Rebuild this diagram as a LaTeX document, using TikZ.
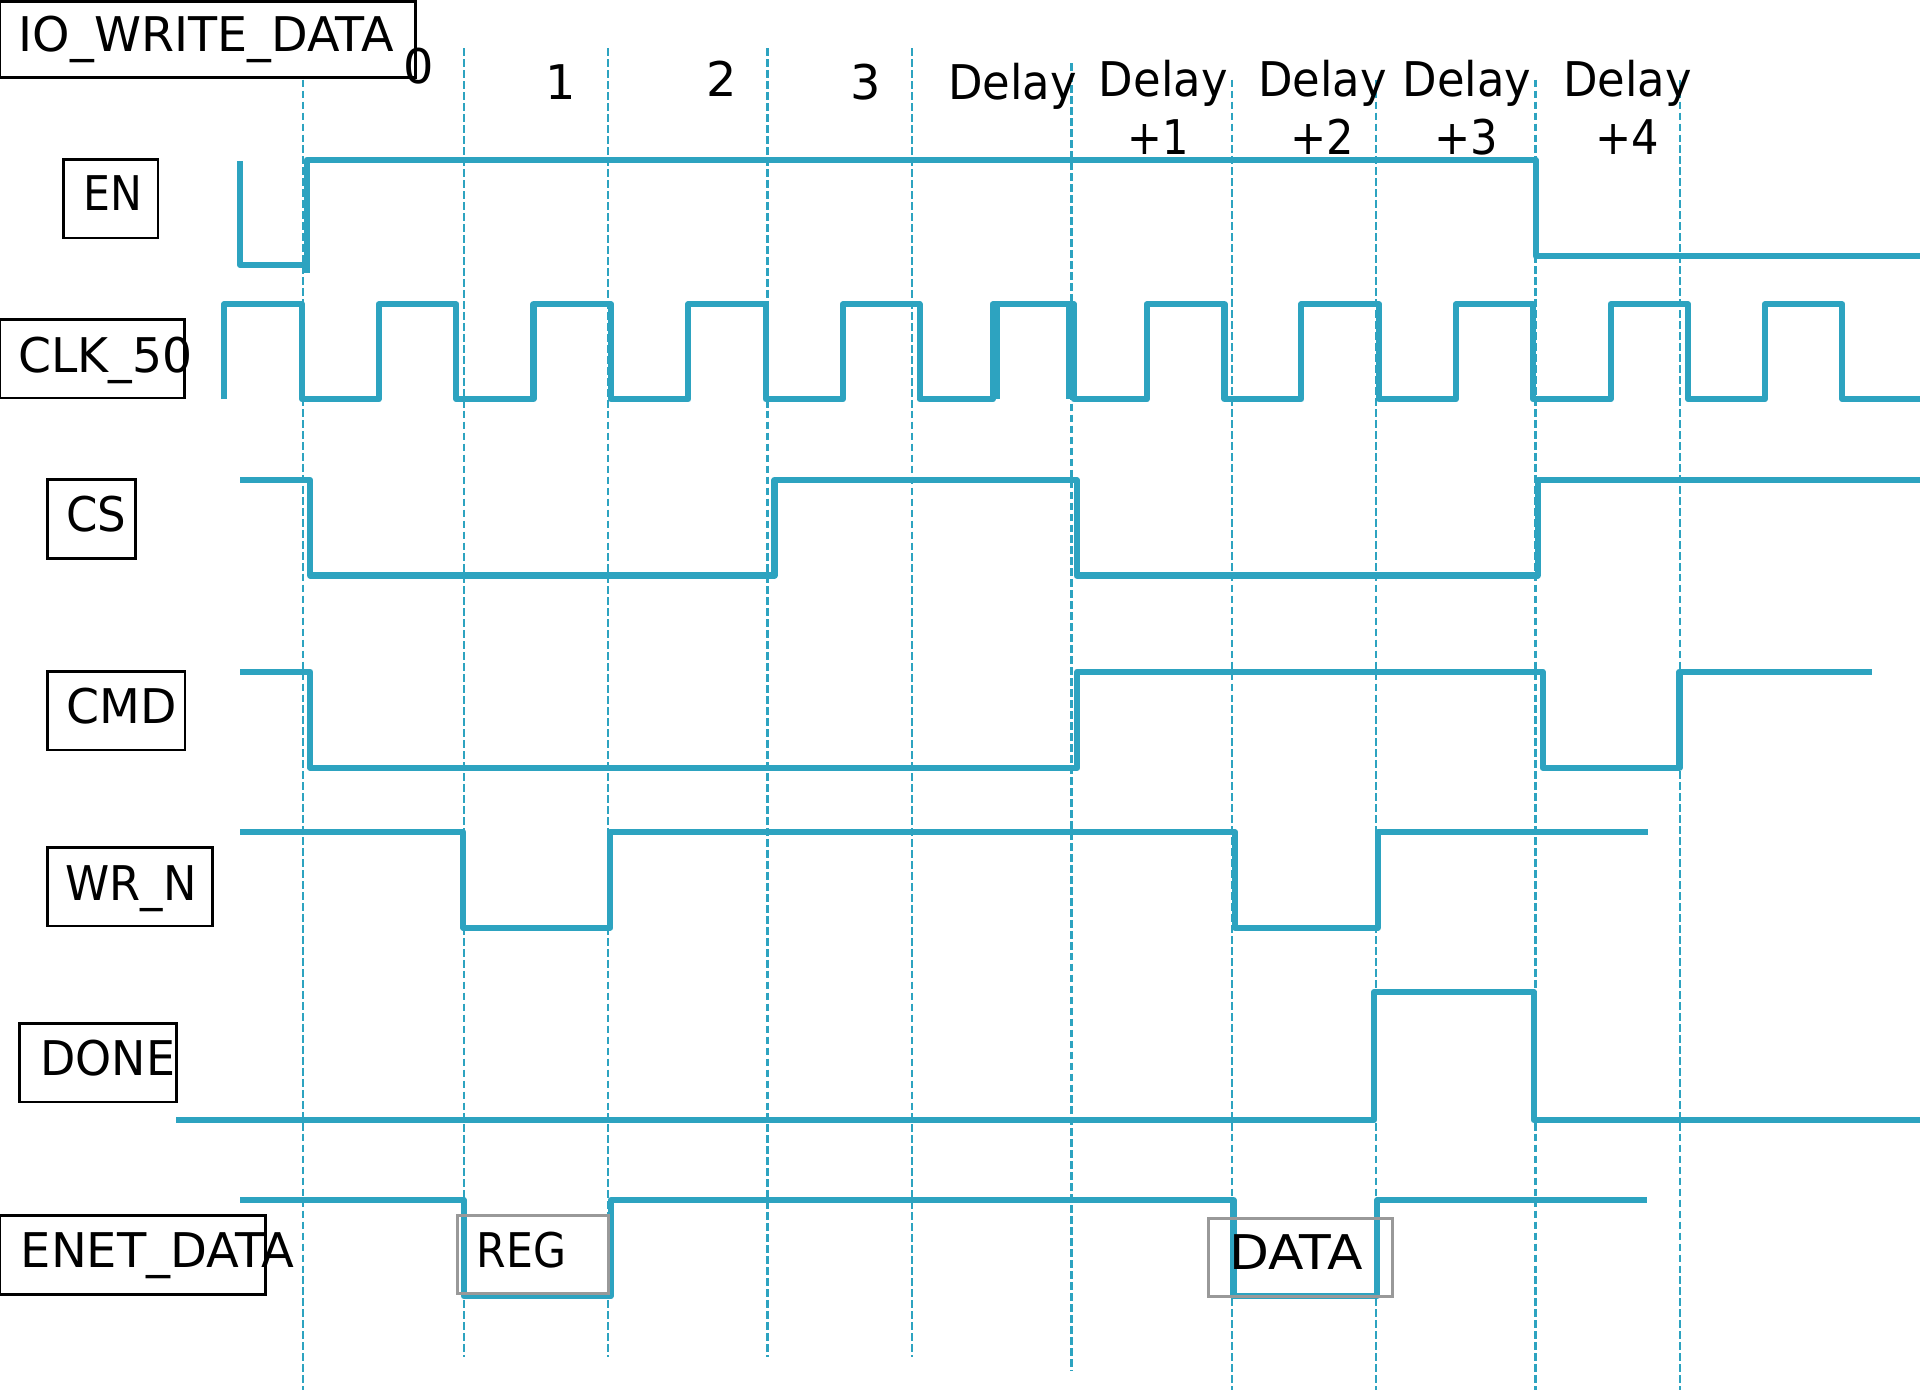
\documentclass[tikz,border=0pt]{standalone}
\usepackage{fontspec}
\setmainfont{DejaVu Sans}
\usepackage{graphicx}
\definecolor{wave}{HTML}{2DA3C0}
\definecolor{tagline}{HTML}{999999}
% squeeze a label to a given width (cm), keeping its height
\newcommand{\fitto}[2]{\resizebox{#1cm}{\height}{#2}}

\begin{document}
\begin{tikzpicture}[x=0.01cm, y=-0.01cm,
  signal/.style={draw=wave, line width=1.42pt, line join=round},
  gridline/.style={draw=wave, line width=0.55pt, dash pattern=on 1.8pt off 0.75pt},
  namebox/.style={draw=black, line width=0.65pt, inner sep=0pt},
  tagbox/.style={draw=tagline, line width=0.65pt, inner sep=0pt},
  txt/.style={inner sep=0pt, anchor=base, text=black, font=\fontsize{11.1pt}{13pt}\selectfont}]

\useasboundingbox (0,0) rectangle (1568,1135);

% cycle boundaries
\draw[gridline] (247.7,65) -- (247.7,1135);
\draw[gridline] (379,39.5) -- (379,1108);
\draw[gridline] (496.7,39.5) -- (496.7,1108);
\draw[gridline] (626.8,39.5) -- (626.8,1108);
\draw[gridline] (745,39.5) -- (745,1108);
\draw[gridline] (875.2,51.7) -- (875.2,1120);
\draw[gridline] (1005.9,65) -- (1005.9,1135);
\draw[gridline] (1123.7,65) -- (1123.7,1135);
\draw[gridline] (1254.1,65) -- (1254.1,1135);
\draw[gridline] (1372,65) -- (1372,1135);

% EN
\draw[signal] (196,131.5) -- (196,216.4) -- (250.4,216.4);
\draw[signal] (250.4,223) -- (250.4,130.7) -- (1254.3,130.7) -- (1254.3,209.3) -- (1568,209.3);

% CLK_50
\draw[signal] (183,326) -- (183,248.5) -- (246.7,248.5) -- (246.7,326) -- (309.3,326)
  -- (309.3,248.5) -- (372.7,248.5) -- (372.7,326) -- (435.7,326) -- (435.7,248.5)
  -- (499,248.5) -- (499,326) -- (562,326) -- (562,248.5) -- (625.4,248.5) -- (625.4,326)
  -- (688.4,326) -- (688.4,248.5) -- (751,248.5) -- (751,326) -- (810.8,326) -- (810.8,248.5)
  -- (877,248.5) -- (877,326) -- (936.5,326) -- (936.5,248.5) -- (1000,248.5) -- (1000,326)
  -- (1062.6,326) -- (1062.6,248.5) -- (1126.3,248.5) -- (1126.3,326) -- (1189,326)
  -- (1189,248.5) -- (1252,248.5) -- (1252,326) -- (1315.3,326) -- (1315.3,248.5)
  -- (1378.6,248.5) -- (1378.6,326) -- (1441.3,326) -- (1441.3,248.5) -- (1504.6,248.5)
  -- (1504.6,326) -- (1568,326);
\draw[signal] (814.4,326) -- (814.4,248.5);
\draw[signal] (873.3,248.5) -- (873.3,326);

% CS
\draw[signal] (196,392) -- (253.3,392) -- (253.3,470) -- (632.5,470) -- (632.5,392)
  -- (879.3,392) -- (879.3,470) -- (1255.7,470) -- (1255.7,392) -- (1568,392);

% CMD
\draw[signal] (196,548.5) -- (253.3,548.5) -- (253.3,627) -- (879.8,627) -- (879.8,548.5)
  -- (1259.8,548.5) -- (1259.8,627) -- (1371.6,627) -- (1371.6,548.5) -- (1528.5,548.5);

% WR_N
\draw[signal] (196,679.7) -- (378.3,679.7) -- (378.3,757.7) -- (498.3,757.7) -- (498.3,679.7)
  -- (1008.6,679.7) -- (1008.6,757.7) -- (1125.1,757.7) -- (1125.1,679.7) -- (1345.5,679.7);

% DONE
\draw[signal] (144,914.7) -- (1122.1,914.7) -- (1122.1,810.1) -- (1252.5,810.1)
  -- (1252.5,914.7) -- (1568,914.7);

% ENET_DATA
\draw[signal] (196,980) -- (378.8,980) -- (378.8,1058.5) -- (498.8,1058.5) -- (498.8,980)
  -- (1007.4,980) -- (1007.4,1058.5) -- (1124.8,1058.5) -- (1124.8,980) -- (1345.4,980);

% signal name boxes
\node[namebox, minimum width=3.39cm, minimum height=0.625cm] (titlebox) at (169.5,32.3) {};
\node[namebox, minimum width=0.773cm, minimum height=0.641cm] (enbox) at (90.4,162.3) {};
\node[namebox, minimum width=1.507cm, minimum height=0.64cm] (clkbox) at (75.4,293) {};
\node[namebox, minimum width=0.72cm, minimum height=0.646cm] (csbox) at (74.7,423.6) {};
\node[namebox, minimum width=1.123cm, minimum height=0.638cm] (cmdbox) at (94.9,580.5) {};
\node[namebox, minimum width=1.346cm, minimum height=0.642cm] (wrbox) at (106,724.1) {};
\node[namebox, minimum width=1.28cm, minimum height=0.642cm] (donebox) at (80,867.9) {};
\node[namebox, minimum width=2.167cm, minimum height=0.643cm] (enetbox) at (108.4,1024.8) {};
\node[tagbox, minimum width=1.23cm, minimum height=0.635cm] (regbox) at (435.2,1024.7) {};
\node[tagbox, minimum width=1.496cm, minimum height=0.635cm] (databox) at (1062.1,1026.8) {};

% signal names
\node[txt] (title) at (168.5,42.2) {\fitto{3.06}{IO\_WRITE\_DATA}};
\node[txt] (en) at (92.5,172.2) {\fitto{0.48}{EN}};
\node[txt] (clk) at (86.3,303.8) {\fitto{1.42}{CLK\_50}};
\node[txt] (cs) at (78.8,434) {\fitto{0.49}{CS}};
\node[txt] (cmd) at (99.7,590.5) {\fitto{0.90}{CMD}};
\node[txt] (wr) at (107,735) {\fitto{1.07}{WR\_N}};
\node[txt] (done) at (88,878) {\fitto{1.10}{DONE}};
\node[txt] (enet) at (128.5,1035.1) {\fitto{2.23}{ENET\_DATA}};
\node[txt] (reg) at (426,1035) {\fitto{0.73}{REG}};
\node[txt] (data) at (1058.5,1036.5) {\fitto{1.09}{DATA}};

% cycle labels
\node[txt] (c0) at (341.7,68) {0};
\node[txt] (c1) at (457.5,81) {1};
\node[txt] (c2) at (589,79) {2};
\node[txt] (c3) at (707,81) {3};
\node[txt] (d0) at (827,81) {\fitto{1.05}{Delay}};
\node[txt] (d1) at (950,79) {\fitto{1.05}{Delay}};
\node[txt] (p1) at (946,126) {\fitto{0.50}{+1}};
\node[txt] (d2) at (1080,79) {\fitto{1.05}{Delay}};
\node[txt] (p2) at (1080,126) {\fitto{0.52}{+2}};
\node[txt] (d3) at (1198,79) {\fitto{1.05}{Delay}};
\node[txt] (p3) at (1197.5,126) {\fitto{0.52}{+3}};
\node[txt] (d4) at (1329,79) {\fitto{1.05}{Delay}};
\node[txt] (p4) at (1328.6,126) {\fitto{0.52}{+4}};

\end{tikzpicture}
\end{document}
